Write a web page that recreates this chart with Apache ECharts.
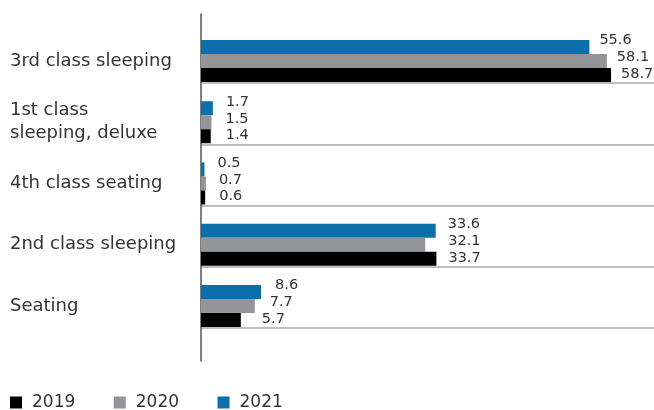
<!DOCTYPE html>
<html>
<head>
<meta charset="utf-8">
<style>html,body{margin:0;padding:0;background:#fff;}#chart{width:654px;height:410px;}</style>
<script src="https://cdn.jsdelivr.net/npm/echarts@6/dist/echarts.min.js"></script>
</head>
<body>
<div id="chart"></div>
<script>
// Categories listed bottom-to-top (ECharts category y-axis starts at the bottom)
const categories = ['Seating', '2nd class sleeping', '4th class seating', '1st class\nsleeping, deluxe', '3rd class sleeping'];
const seriesNames = ['2019', '2020', '2021'];
const values2019 = [5.7, 33.7, 0.6, 1.4, 58.7];
const values2020 = [7.7, 32.1, 0.7, 1.5, 58.1];
const values2021 = [8.6, 33.6, 0.5, 1.7, 55.6];

const FONT = 'DejaVu Sans';
const colors = {'2019': '#000000', '2020': '#939598', '2021': '#0a6faa'};
const labelDy = {'2019': -1, '2020': -3.5, '2021': -6.5};
// extra horizontal label shift (px) for a few labels, as in the reference layout
const labelDx = {'2019': [9, 0, 2, 3, -2], '2020': [3, 11, 1, 2, -2], '2021': [2, 0, 1, 1, -2]};
const allValues = {'2019': values2019, '2020': values2020, '2021': values2021};

const chart = echarts.init(document.getElementById('chart'), null, {renderer: 'canvas'});

// horizontal bars: first series is drawn at the top of each band, so 2021 comes first
const series = ['2021', '2020', '2019'].map(name => ({
  name: name,
  type: 'bar',
  xAxisIndex: 0,
  yAxisIndex: 0,
  barWidth: 14,
  barGap: '0%',
  data: allValues[name].map((v, i) => ({value: v, label: {offset: [labelDx[name][i], labelDy[name]]}})),
  itemStyle: {color: colors[name]},
  label: {
    show: true,
    position: 'right',
    distance: 12,
    color: '#333333',
    fontFamily: FONT,
    fontSize: 14.5,
    formatter: p => p.value.toFixed(1)
  }
}));

chart.setOption({
  animation: false,
  textStyle: {fontFamily: FONT},
  legend: {
    data: seriesNames,
    left: 10,
    top: 394,
    padding: 0,
    itemWidth: 12,
    itemHeight: 12,
    itemGap: 38.5,
    icon: 'rect',
    textStyle: {fontFamily: FONT, fontSize: 17, color: '#333333', padding: [0, 0, 0, 5]}
  },
  grid: [
    {left: 201, right: 0, top: 30.375, height: 306.25, containLabel: false},
    {left: 201, right: 0, top: 21.75, height: 306.25, containLabel: false},
    {left: 201, width: 10, top: 14, height: 347, containLabel: false}
  ],
  xAxis: [
    {gridIndex: 0, type: 'value', min: 0, max: 64.85, show: false},
    {gridIndex: 1, type: 'value', min: 0, max: 1, show: false},
    {gridIndex: 2, type: 'value', min: 0, max: 1, show: false}
  ],
  yAxis: [
    {
      gridIndex: 0, type: 'category', data: categories,
      axisLine: {show: false}, axisTick: {show: false}, splitLine: {show: false},
      axisLabel: {
        align: 'left', margin: 191, color: '#333333',
        fontFamily: FONT, fontSize: 18, lineHeight: 23
      }
    },
    {
      gridIndex: 1, type: 'value', min: 0, max: 5, interval: 1,
      axisLine: {show: false}, axisTick: {show: false}, axisLabel: {show: false},
      splitLine: {show: true, showMaxLine: false,
        lineStyle: {color: ['#aaaaaa', '#aaaaaa', '#aaaaaa', '#aaaaaa', '#aaaaaa', 'rgba(0,0,0,0)'], width: 1.5}}
    },
    {
      gridIndex: 2, type: 'value', min: 0, max: 1,
      axisLine: {show: true, lineStyle: {color: '#555555', width: 1.5}},
      axisTick: {show: false}, axisLabel: {show: false}, splitLine: {show: false}
    }
  ],
  series: series
});
</script>
</body>
</html>
